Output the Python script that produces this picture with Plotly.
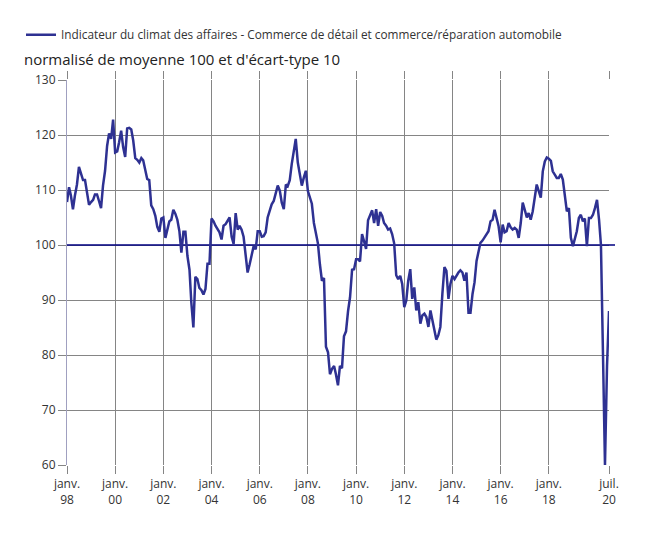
import pandas as pd
import plotly.graph_objects as go

# Monthly values, Jan 1998 .. Jul 2020
values_1998 = [107.8, 110.5, 109, 106.5, 109, 111, 114.2, 112.8, 111.8, 111.8, 109.5, 107.3]
values_1999 = [107.8, 108.2, 109.2, 109.2, 108, 106.7, 110.8, 113.5, 118, 120.3, 119.3, 122.8]
values_2000 = [116.8, 117, 118.7, 120.8, 117.8, 116, 121.2, 121.3, 121, 119, 115.8, 115.5]
values_2001 = [115, 115.8, 115.4, 113.8, 112, 111.8, 107.2, 106.5, 105.3, 103.3, 102.4, 104.8]
values_2002 = [105, 101.3, 102.8, 104.3, 104.6, 106.4, 105.7, 104.6, 102.5, 98.6, 102.4, 102.4]
values_2003 = [98, 95.5, 89.5, 85, 94.2, 93.8, 92.2, 91.8, 91, 92, 96.6, 96.6]
values_2004 = [104.8, 104.3, 103.5, 103, 102.3, 101, 103.5, 103.8, 104.3, 105, 101.5, 100.2]
values_2005 = [105.8, 102.8, 103.5, 102.8, 101.5, 98.6, 95, 96.5, 98, 99.8, 99.2, 102.5]
values_2006 = [102.5, 101.5, 101.6, 102.3, 105, 106.1, 107.4, 108, 109.6, 110.8, 109.9, 107.7]
values_2007 = [106.5, 111, 110.7, 111.8, 114.7, 117.2, 119.3, 115, 113.2, 110.8, 112.3, 113.5]
values_2008 = [109.8, 108.4, 107.5, 104, 102.3, 100.3, 96.5, 93.5, 94, 81.5, 80.5, 76.5]
values_2009 = [77.5, 78, 76.5, 74.5, 78, 77.6, 83.4, 84.3, 88, 90.5, 95.5, 95.6]
values_2010 = [97.4, 97.4, 97, 102, 100.7, 99.3, 104.5, 105.3, 106.3, 104, 106.5, 103.5]
values_2011 = [106, 105.3, 104, 103.5, 102.8, 103, 102, 100.3, 94.5, 93.8, 94.4, 92.9]
values_2012 = [88.7, 89.9, 93.5, 95.6, 90.2, 92.3, 88.1, 89.6, 85.7, 87.2, 87.5, 86.9]
values_2013 = [85.1, 88.1, 86.3, 84.2, 82.8, 83.6, 85.1, 91.1, 96, 95.3, 90.2, 92.9]
values_2014 = [94.4, 93.8, 94.4, 95, 95.4, 95, 93.5, 95, 87.7, 87.7, 91.1, 93.2]
values_2015 = [97.1, 99.2, 100.4, 100.8, 101.3, 101.9, 102.5, 104.3, 104.6, 106.4, 104.6, 103.4]
values_2016 = [100.5, 103.7, 102.3, 102.5, 104, 103.2, 102.8, 103.1, 102.8, 101.3, 104, 107.7]
values_2017 = [106.4, 105, 105.8, 104.6, 106.1, 108.9, 111, 109.8, 108.6, 113.4, 115.2, 115.9]
values_2018 = [115.7, 115.3, 113.4, 112.8, 112.2, 112.2, 112.9, 111.9, 109.2, 106.1, 106.7, 101.3]
values_2019 = [99.8, 101.3, 102.5, 104.9, 105.5, 104.3, 104.8, 99.8, 104.9, 104.9, 105.5, 106.7]
values_2020 = [108.2, 104.6, 100, 80, 60, 78, 88]

values = (values_1998 + values_1999 + values_2000 + values_2001 + values_2002 + values_2003
          + values_2004 + values_2005 + values_2006 + values_2007 + values_2008 + values_2009
          + values_2010 + values_2011 + values_2012 + values_2013 + values_2014 + values_2015
          + values_2016 + values_2017 + values_2018 + values_2019 + values_2020)
dates = pd.date_range("1998-01-01", periods=len(values), freq="MS")

series_name = "Indicateur du climat des affaires - Commerce de détail et commerce/réparation automobile"
y_title = "normalisé de moyenne 100 et d'écart-type 10"
tick_dates = ["1998-01-01", "2000-01-01", "2002-01-01", "2004-01-01", "2006-01-01", "2008-01-01",
              "2010-01-01", "2012-01-01", "2014-01-01", "2016-01-01", "2018-01-01", "2020-07-01"]
tick_labels = ["janv.<br>98", "janv.<br>00", "janv.<br>02", "janv.<br>04", "janv.<br>06", "janv.<br>08",
               "janv.<br>10", "janv.<br>12", "janv.<br>14", "janv.<br>16", "janv.<br>18", "juil.<br>20"]
reference_level = 100
x_start, x_end = "1998-01-01", "2020-07-01"

# page has an 8px body margin; figure coordinates = screen - 8
W, H = 640, 530
L, R, T, B = 59, 39, 70, 73
pw, ph = W - L - R, H - T - B

def px_x(p):
    return (p - L) / pw

def px_y(p):
    return (H - B - p) / ph

fig = go.Figure()
# reference line at 100 (inside plot), drawn under the series
fig.add_trace(go.Scatter(
    x=[x_start, x_end], y=[reference_level, reference_level], mode="lines",
    line=dict(color="#000080", width=1.5), showlegend=False, hoverinfo="skip",
))
fig.add_trace(go.Scatter(
    x=dates, y=values, mode="lines", name=series_name,
    line=dict(color="rgb(46,49,146)", width=2.5),
))

fig.update_layout(
    width=W, height=H,
    margin=dict(l=L, r=R, t=T, b=B),
    paper_bgcolor="white", plot_bgcolor="white",
    font=dict(family="Open Sans", size=12, color="#333333"),
    showlegend=True,
    legend=dict(x=px_x(13), y=px_y(10), xanchor="left", yanchor="top",
                font=dict(size=11.8, color="#333333"), bgcolor="rgba(0,0,0,0)"),
    xaxis=dict(
        range=[x_start, x_end],
        tickmode="array", tickvals=tick_dates, ticktext=tick_labels,
        showgrid=True, gridcolor="#858585", gridwidth=1,
        ticks="outside", ticklen=8, tickcolor="#858585", mirror="ticks",
        showline=False, zeroline=False,
        tickfont=dict(size=12, color="#333333"),
    ),
    yaxis=dict(
        range=[60, 130], dtick=10, tick0=60,
        showgrid=True, gridcolor="#858585", gridwidth=1,
        ticks="outside", ticklen=8, tickcolor="#858585",
        showline=True, linecolor="#a0a0c0", linewidth=1,
        zeroline=False,
        tickfont=dict(size=12, color="#333333"),
    ),
    shapes=[
        # extension of the 100 line beyond the right edge of the plot
        dict(type="line", xref="paper", yref="y", x0=1, x1=px_x(607),
             y0=reference_level, y1=reference_level,
             line=dict(color="#000080", width=1.5), layer="above"),
    ],
    annotations=[
        dict(text=y_title, xref="paper", yref="paper", x=px_x(14), y=px_y(49),
             xanchor="left", yanchor="middle", showarrow=False,
             font=dict(size=15, color="#222222")),
    ],
)

fig.write_html("out.html")
